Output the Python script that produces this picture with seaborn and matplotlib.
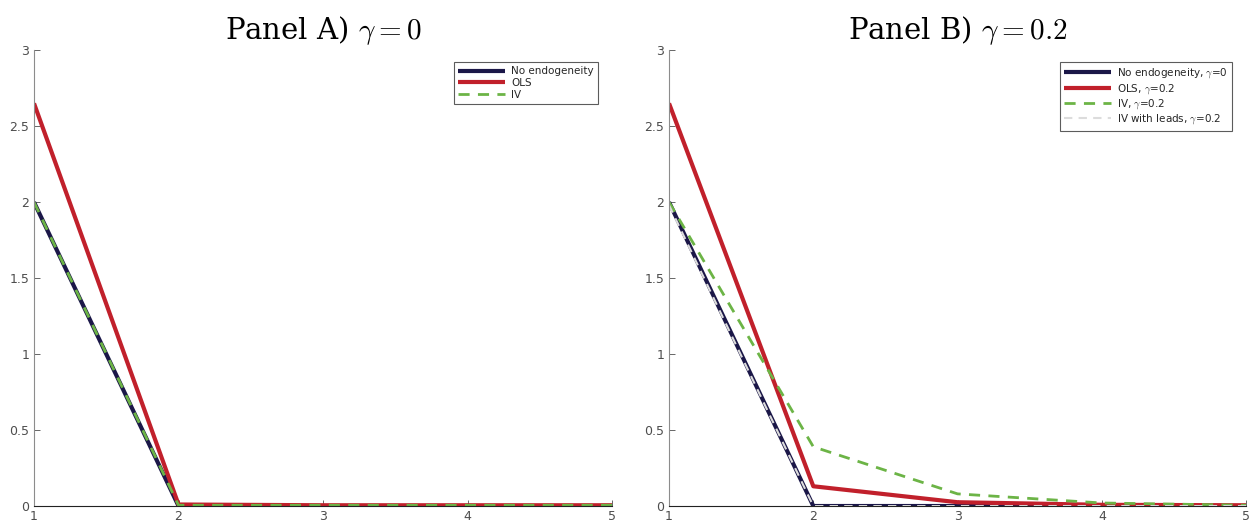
import matplotlib
matplotlib.use("Agg")
import matplotlib.pyplot as plt
import seaborn as sns
import pandas as pd

horizon = [1, 2, 3, 4, 5]

# Panel A, gamma = 0
a_no_endog = [2.0, 0.0, 0.0, 0.0, 0.0]
a_ols = [2.65, 0.01, 0.005, 0.005, 0.005]
a_iv = [2.0, 0.005, 0.005, 0.005, 0.005]

# Panel B, gamma = 0.2
b_no_endog = [2.0, 0.0, 0.0, 0.0, 0.0]
b_ols = [2.65, 0.13, 0.025, 0.008, 0.005]
b_iv = [2.0, 0.39, 0.08, 0.02, 0.005]
b_iv_leads = [1.98, 0.0, 0.0, 0.0, 0.0]

yticks = [0, 0.5, 1, 1.5, 2, 2.5, 3]
ytick_labels = ["0", "0.5", "1", "1.5", "2", "2.5", "3"]

navy = "#1b1748"
red = "#c1202b"
green = "#6cb446"
lightgray = "#dcdcdc"

sns.set_style("ticks")
plt.rcParams["font.family"] = ["DejaVu Sans"]
plt.rcParams["mathtext.fontset"] = "cm"
plt.rcParams["xtick.direction"] = "in"
plt.rcParams["ytick.direction"] = "in"

fig = plt.figure(figsize=(12.55, 5.27), dpi=100)
ax_a = fig.add_axes([0.0271, 0.0398, 0.4606, 0.865])
ax_b = fig.add_axes([0.5331, 0.0398, 0.4598, 0.865])


def draw(ax, series, title):
    for label, vals, color, lw, dashes in series:
        df = pd.DataFrame({"h": horizon, "v": vals})
        sns.lineplot(data=df, x="h", y="v", ax=ax, color=color, lw=lw, label=label)
        l = ax.get_lines()[-1]
        l.set_solid_capstyle("butt")
        if dashes:
            l.set_dashes(dashes)
    ax.set_xlim(1, 5)
    ax.set_ylim(0, 3)
    ax.set_xticks(horizon)
    ax.set_yticks(yticks)
    ax.set_yticklabels(ytick_labels)
    ax.set_xlabel("")
    ax.set_ylabel("")
    ax.tick_params(colors="#4d4d4d", labelsize=9, length=4, width=0.6)
    ax.tick_params(axis="x", pad=3)
    for s in ["top", "right"]:
        ax.spines[s].set_visible(False)
    ax.spines["left"].set_color("#8c8c8c")
    ax.spines["bottom"].set_color("#222222")
    ax.spines["left"].set_linewidth(0.8)
    ax.spines["bottom"].set_linewidth(0.8)
    ax.set_title(title, fontsize=21, family="serif", pad=8, color="black")
    leg = ax.legend(loc="upper right", fontsize=7.5, frameon=True, fancybox=False,
                    edgecolor="#333333", borderpad=0.4, labelspacing=0.15,
                    handlelength=4.5, handletextpad=0.6, bbox_to_anchor=(0.985, 0.985))
    leg.get_frame().set_linewidth(0.8)


draw(ax_a, [
    ("No endogeneity", a_no_endog, navy, 3.0, None),
    ("OLS", a_ols, red, 3.0, None),
    ("IV", a_iv, green, 2.0, (4, 3)),
], r"Panel A) $\gamma = 0$")

draw(ax_b, [
    (r"No endogeneity, $\gamma$=0", b_no_endog, navy, 3.0, None),
    (r"OLS, $\gamma$=0.2", b_ols, red, 3.0, None),
    (r"IV, $\gamma$=0.2", b_iv, green, 2.0, (4, 3)),
    (r"IV with leads, $\gamma$=0.2", b_iv_leads, lightgray, 1.5, (4, 3)),
], r"Panel B) $\gamma = 0.2$")

fig.savefig("out.png", dpi=100)
